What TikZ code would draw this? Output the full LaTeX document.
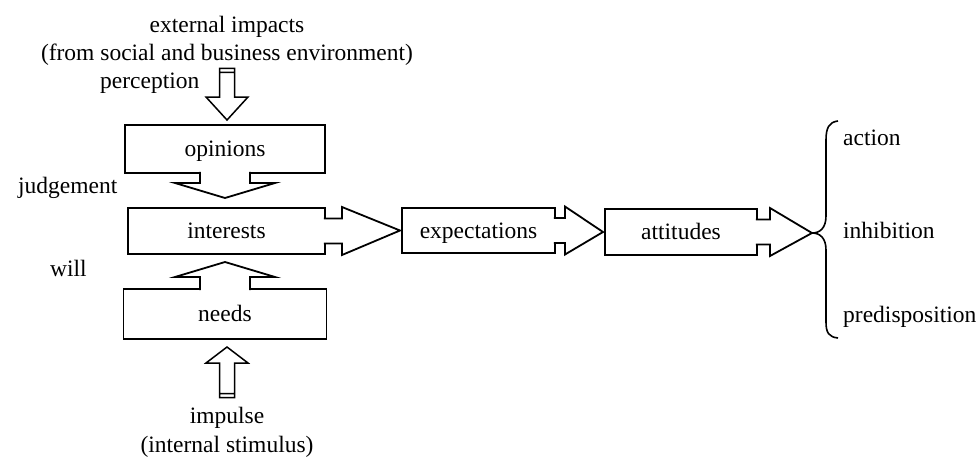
\documentclass[tikz,border=0pt]{standalone}
\usepackage{fontspec}
\setmainfont{Liberation Serif}
\usetikzlibrary{calc}
\tikzset{
stage/.style={draw,line width=1.8pt,minimum height=46pt,inner sep=0pt,outer sep=0pt,text height=18pt,text depth=3pt},
txt/.style={inner sep=0pt,align=center},
fatright/.style={draw,fill=white,line width=1.8pt,to path={($(\tikztostart)+(-1.2,-12.5)$) -- ($(\tikztostart)+(#1,-12.5)$) -- ($(\tikztostart)+(#1,-24)$) -- (\tikztotarget) -- ($(\tikztostart)+(#1,24)$) -- ($(\tikztostart)+(#1,12.5)$) -- ($(\tikztostart)+(-1.2,12.5)$)}},
fatdown/.style={draw,fill=white,line width=1.8pt,to path={($(\tikztostart)+(-25,-1.2)$) -- ($(\tikztostart)+(-25,#1)$) -- ($(\tikztostart)+(-50,#1)$) -- (\tikztotarget) -- ($(\tikztostart)+(50,#1)$) -- ($(\tikztostart)+(25,#1)$) -- ($(\tikztostart)+(25,-1.2)$)}},
fatup/.style={draw,fill=white,line width=1.8pt,to path={($(\tikztostart)+(-25,1.2)$) -- ($(\tikztostart)+(-25,#1)$) -- ($(\tikztostart)+(-50,#1)$) -- (\tikztotarget) -- ($(\tikztostart)+(50,#1)$) -- ($(\tikztostart)+(25,#1)$) -- ($(\tikztostart)+(25,1.2)$)}},
indown/.style={draw,line width=1.5pt,to path={($(\tikztostart)+(-7.5,0)$) -- ($(\tikztotarget)+(-7.5,-#1)$) -- ($(\tikztotarget)+(-21,-#1)$) -- (\tikztotarget) -- ($(\tikztotarget)+(21,-#1)$) -- ($(\tikztotarget)+(7.5,-#1)$) -- ($(\tikztostart)+(7.5,0)$) -- cycle ($(\tikztostart)+(-7.5,4)$) -- ($(\tikztostart)+(7.5,4)$)}},
inup/.style={draw,line width=1.5pt,to path={($(\tikztostart)+(-7.5,0)$) -- ($(\tikztotarget)+(-7.5,#1)$) -- ($(\tikztotarget)+(-21,#1)$) -- (\tikztotarget) -- ($(\tikztotarget)+(21,#1)$) -- ($(\tikztotarget)+(7.5,#1)$) -- ($(\tikztostart)+(7.5,0)$) -- cycle ($(\tikztostart)+(-7.5,-4)$) -- ($(\tikztostart)+(7.5,-4)$)}},
bracket/.style={draw,line width=1.6pt}
}
\begin{document}
\begin{tikzpicture}[x=1pt,y=-1pt,font=\fontsize{23.5}{28}\selectfont]
\useasboundingbox[fill=white] (0,0) rectangle (980,459);
% boxes
\node[stage,minimum width=200pt,minimum height=48pt](op) at (225,149){opinions};
\node[stage,minimum width=197pt](int) at (226.5,231){interests};
\node[stage,minimum width=203pt,minimum height=50pt](nd) at (225,314){needs};
\node[stage,minimum width=153pt,minimum height=45pt](exp) at (478.5,230.5){expectations};
\node[stage,minimum width=152pt](att) at (681,232){attitudes};
\coordinate (br) at (812,233);
% texts
\node[txt](ext) at (227,41){external impacts\\(from social and business environment)};
\node[txt,anchor=west](perc) at (100,83){perception};
\node[txt,anchor=west](judg) at (18,188){judgement};
\node[txt,anchor=west](will) at (50,268){will};
\node[txt,font=\fontsize{23.5}{29}\selectfont](imp) at (227,432.5){impulse\\(internal stimulus)};
\node[txt,anchor=west](act) at (843,138){action};
\node[txt,anchor=west](inh) at (843,230){inhibition};
\node[txt,anchor=west](pre) at (843,317){predisposition};
% arrows
\draw[indown=23] ($(ext.south)+(0,2.5)$) to ($(op.north)+(2,-5)$);
\draw[fatdown=10] (op.south) to ($(int.north)+(-1.5,-10)$);
\draw[fatup=-12] (nd.north) to ($(int.south)+(-1.5,8)$);
\draw[inup=16] ($(imp.north)+(0,-9.5)$) to ($(nd.south)+(2,8)$);
\draw[fatright=17] (int.east) to ($(exp.west)+(-2,0)$);
\draw[fatright=10] (exp.east) to ($(att.west)+(-2,0)$);
\draw[fatright=13] (att.east) to (br);
% brace
\draw[bracket] (838,121) .. controls (829,122) and (826,128) .. (826,140) -- (826,216) .. controls (826,228) and (820,233) .. (br) .. controls (820,233) and (826,238) .. (826,250) -- (826,322) .. controls (826,333) and (829,337) .. (838,338);
\end{tikzpicture}
\end{document}
